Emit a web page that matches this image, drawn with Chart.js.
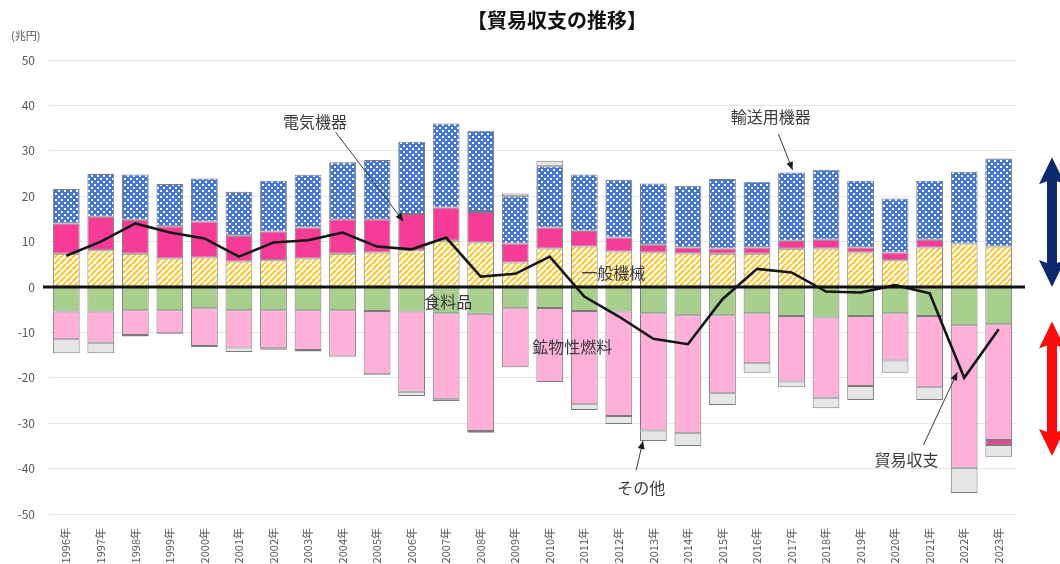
<!DOCTYPE html>
<html>
<head>
<meta charset="utf-8">
<script src="https://cdn.jsdelivr.net/npm/chart.js@4.4.1/dist/chart.umd.min.js"></script>
<style>
  html, body { margin: 0; padding: 0; background: #fff; }
</style>
</head>
<body>
<canvas id="chart" width="1060" height="564"></canvas>
<script>
// 兆円
const years = ['1996年', '1997年', '1998年', '1999年', '2000年', '2001年', '2002年', '2003年', '2004年', '2005年',
  '2006年', '2007年', '2008年', '2009年', '2010年', '2011年', '2012年', '2013年', '2014年', '2015年',
  '2016年', '2017年', '2018年', '2019年', '2020年', '2021年', '2022年', '2023年']
const generalMachinery = [7.3, 8.1, 7.3, 6.3, 6.5, 5.6, 5.9, 6.3, 7.3, 7.6, 8.1, 10.2, 9.8, 5.4, 8.5, 8.9, 7.8, 7.6, 7.4, 7.3, 7.3, 8.4, 8.5, 7.6, 5.9, 8.7, 9.6, 8.9]
const electrical = [6.7, 7.4, 7.5, 7.1, 7.9, 5.7, 6.3, 6.8, 7.6, 7.3, 8.0, 7.3, 6.7, 4.2, 4.6, 3.5, 3.1, 1.7, 1.3, 1.2, 1.4, 1.8, 1.9, 1.1, 1.7, 1.7, 0, -1.1]
const transport = [7.6, 9.4, 10.0, 9.3, 9.5, 9.7, 11.2, 11.6, 12.6, 13.1, 15.9, 18.5, 17.9, 10.4, 13.5, 12.4, 12.7, 13.5, 13.6, 15.3, 14.5, 15.0, 15.4, 14.7, 11.9, 13.0, 15.8, 19.4]
const food = [-5.4, -5.4, -5.1, -5.1, -4.7, -5.1, -5.1, -5.1, -5.1, -5.3, -5.4, -5.8, -5.9, -4.7, -4.6, -5.3, -5.4, -5.8, -6.2, -6.2, -5.8, -6.4, -6.7, -6.4, -5.8, -6.4, -8.4, -8.2]
const fuel = [-6.1, -6.9, -5.5, -5.1, -8.3, -8.2, -8.4, -8.8, -10.2, -13.9, -17.7, -18.9, -25.8, -13.0, -16.3, -20.5, -23.0, -25.8, -26.0, -17.2, -11.0, -14.4, -17.7, -15.4, -10.4, -15.7, -31.4, -25.5]
const others = [-3.1, -2.3, -0.3, -0.2, -0.2, -1.0, -0.3, -0.3, -0.2, -0.2, -0.9, -0.4, -0.4, 0.6, 1.2, -1.3, -1.8, -2.3, -2.8, -2.6, -2.1, -1.3, -2.3, -3.1, -2.7, -2.8, -5.6, -2.6]
const tradeBalance = [6.9, 10.0, 14.0, 12.0, 10.7, 6.7, 9.8, 10.3, 12.0, 8.9, 8.3, 10.9, 2.3, 2.9, 6.7, -2.1, -6.5, -11.4, -12.6, -2.7, 4.0, 3.2, -1.0, -1.2, 0.4, -1.4, -20.0, -9.3]
const yTicks = [50, 40, 30, 20, 10, 0, -10, -20, -30, -40, -50]

// 電気機器 is split so a negative year stacks below 鉱物性燃料
const electricalPos = electrical.map(v => (v > 0 ? v : null))
const electricalNeg = electrical.map(v => (v < 0 ? v : null))

const canvas = document.getElementById('chart')
const ctx = canvas.getContext('2d')
const JP = '"Noto Sans CJK JP", "Noto Sans", sans-serif'

function makePattern (size, draw) {
  const c = document.createElement('canvas')
  c.width = c.height = size
  draw(c.getContext('2d'))
  return ctx.createPattern(c, 'repeat')
}

const yellowHatch = makePattern(6, g => {
  g.fillStyle = '#fff'
  g.fillRect(0, 0, 6, 6)
  g.strokeStyle = '#FFC629'
  g.lineWidth = 2.2
  g.beginPath()
  for (const k of [-6, 0, 6]) { g.moveTo(k, 6); g.lineTo(k + 6, 0) }
  g.stroke()
})
const blueCheck = makePattern(6, g => {
  g.fillStyle = '#4677D6'
  g.fillRect(0, 0, 6, 6)
  g.fillStyle = '#fff'
  g.fillRect(1, 1, 2, 2)
  g.fillRect(4, 4, 2, 2)
})
const greenDots = makePattern(4, g => {
  g.fillStyle = '#AAD190'
  g.fillRect(0, 0, 4, 4)
  g.fillStyle = '#97C27B'
  g.fillRect(0, 0, 1, 1)
  g.fillRect(2, 2, 1, 1)
})

const barBase = {
  type: 'bar',
  stack: 'goods',
  borderColor: 'rgba(100,100,100,0.85)',
  borderWidth: 1,
  borderSkipped: false,
  barPercentage: 0.775,
  categoryPercentage: 1.0
}

function arrowLine (c, x1, y1, x2, y2) {
  c.save()
  c.strokeStyle = '#3a3a3a'
  c.fillStyle = '#1a1a1a'
  c.lineWidth = 1
  c.beginPath()
  c.moveTo(x1, y1)
  c.lineTo(x2, y2)
  c.stroke()
  const a = Math.atan2(y2 - y1, x2 - x1)
  const len = 8
  const w = 3.5
  c.beginPath()
  c.moveTo(x2, y2)
  c.lineTo(x2 - len * Math.cos(a) + w * Math.sin(a), y2 - len * Math.sin(a) - w * Math.cos(a))
  c.lineTo(x2 - len * Math.cos(a) - w * Math.sin(a), y2 - len * Math.sin(a) + w * Math.cos(a))
  c.closePath()
  c.fill()
  c.restore()
}

function doubleArrow (c, cx, top, bottom, color) {
  const sw = 5
  const hw = 13
  const hl = 27
  c.save()
  c.fillStyle = color
  c.beginPath()
  c.moveTo(cx, top)
  c.lineTo(cx + hw, top + hl)
  c.lineTo(cx + sw, top + hl - 3)
  c.lineTo(cx + sw, bottom - hl + 3)
  c.lineTo(cx + hw, bottom - hl)
  c.lineTo(cx, bottom)
  c.lineTo(cx - hw, bottom - hl)
  c.lineTo(cx - sw, bottom - hl + 3)
  c.lineTo(cx - sw, top + hl - 3)
  c.lineTo(cx - hw, top + hl)
  c.closePath()
  c.fill()
  c.restore()
}

// labels and pointers placed in data coordinates (category index, 兆円)
const notes = [
  { text: '電気機器', i: 7.2, v: 36.3, from: [7.8, 34.1], to: [9.76, 14.5] },
  { text: '輸送用機器', i: 20.4, v: 37.4, from: [20.62, 33.7], to: [21.03, 25.8] },
  { text: '一般機械', i: 15.84, v: 3.0 },
  { text: '食料品', i: 11.06, v: -3.2 },
  { text: '鉱物性燃料', i: 14.65, v: -13.3 },
  { text: 'その他', i: 16.65, v: -44.3, from: [16.5, -40.4], to: [16.7, -33.9] },
  { text: '貿易収支', i: 24.33, v: -38.1, from: [24.82, -34.8], to: [25.8, -18.8] }
]

const decorations = {
  id: 'decorations',
  afterDatasetsDraw (chart) {
    const c = chart.ctx
    const x = chart.scales.x
    const y = chart.scales.y
    const area = chart.chartArea
    const y0 = y.getPixelForValue(0)
    c.save()
    c.strokeStyle = '#111'
    c.lineWidth = 3
    c.beginPath()
    c.moveTo(area.left - 6, y0)
    c.lineTo(area.right + 9, y0)
    c.stroke()

    c.font = '16px ' + JP
    c.fillStyle = '#3a3a3a'
    c.textAlign = 'center'
    c.textBaseline = 'middle'
    for (const n of notes) {
      c.fillText(n.text, x.getPixelForValue(n.i), y.getPixelForValue(n.v))
      if (n.from) {
        arrowLine(c, x.getPixelForValue(n.from[0]), y.getPixelForValue(n.from[1]),
          x.getPixelForValue(n.to[0]), y.getPixelForValue(n.to[1]))
      }
    }

    doubleArrow(c, 1052, y.getPixelForValue(28.6), y.getPixelForValue(0), '#0D2A6E')
    doubleArrow(c, 1052, y.getPixelForValue(-7.6), y.getPixelForValue(-37.2), '#FF0A0A')

    c.fillStyle = '#111'
    c.font = 'bold 20px ' + JP
    c.fillText('【貿易収支の推移】', 557, 20)
    c.font = '11px ' + JP
    c.fillStyle = '#555'
    c.textAlign = 'left'
    c.fillText('(兆円)', 11, 36)
    c.restore()
  }
}

new Chart(canvas, {
  data: {
    labels: years,
    datasets: [
      {
        type: 'line',
        label: '貿易収支',
        data: tradeBalance,
        stack: 'balance',
        order: -1,
        borderColor: '#151515',
        borderWidth: 2.6,
        pointRadius: 0,
        fill: false,
        tension: 0
      },
      { ...barBase, label: '一般機械', data: generalMachinery, backgroundColor: yellowHatch },
      { ...barBase, label: '電気機器', data: electricalPos, backgroundColor: '#F63C96' },
      { ...barBase, label: '輸送用機器', data: transport, backgroundColor: blueCheck },
      { ...barBase, label: '食料品', data: food, backgroundColor: greenDots },
      { ...barBase, label: '鉱物性燃料', data: fuel, backgroundColor: '#FFB0D8' },
      { ...barBase, label: '電気機器 ', data: electricalNeg, backgroundColor: '#F63C96' },
      { ...barBase, label: 'その他', data: others, backgroundColor: '#E6E6E6' }
    ]
  },
  options: {
    responsive: false,
    devicePixelRatio: 1,
    animation: false,
    layout: { padding: { top: 60, right: 44, left: 0, bottom: 0 } },
    plugins: {
      legend: { display: false },
      tooltip: { enabled: false }
    },
    scales: {
      x: {
        stacked: true,
        grid: { display: false },
        border: { display: false },
        ticks: {
          autoSkip: false,
          maxRotation: 90,
          minRotation: 90,
          padding: 6,
          color: '#595959',
          font: { family: JP, size: 11 }
        },
        afterFit: s => { s.height = 50 }
      },
      y: {
        stacked: true,
        min: -50,
        max: 50,
        afterBuildTicks: s => { s.ticks = yTicks.map(v => ({ value: v })) },
        grid: {
          drawTicks: false,
          color: c => (c.tick && c.tick.value === 0 ? 'rgba(0,0,0,0)' : '#E6E6E6'),
          lineWidth: 1
        },
        border: { display: false },
        ticks: {
          padding: 14,
          color: '#595959',
          font: { family: JP, size: 12 }
        },
        afterFit: s => { s.width = 49 }
      }
    }
  },
  plugins: [decorations]
})
</script>
</body>
</html>
